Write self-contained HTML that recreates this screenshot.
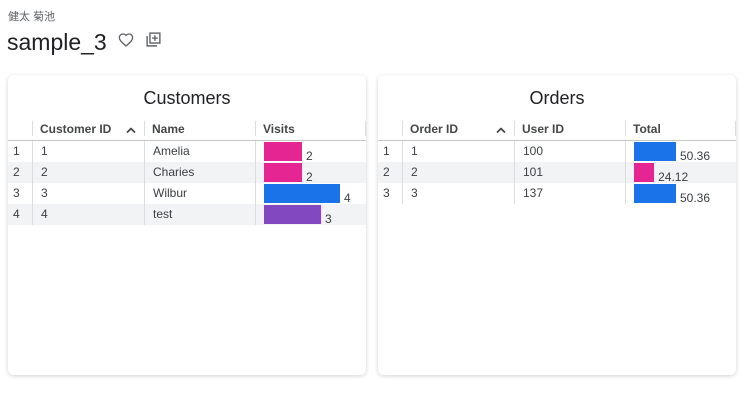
<!DOCTYPE html>
<html><head><meta charset="utf-8"><style>
body{margin:0;width:756px;height:401px;background:#fff;font-family:"Liberation Sans","Noto Sans CJK JP",sans-serif;position:relative;overflow:hidden;color:#202124}
.abs{position:absolute}
.card{position:absolute;top:75px;width:358px;height:300px;background:#fff;border-radius:6px;box-shadow:0 1px 4px rgba(0,0,0,0.18)}
.title{position:absolute;top:13px;left:0;width:100%;text-align:center;font-size:18px;color:#202124}
.hdr{position:absolute;top:47px;font-size:12px;font-weight:bold;color:#444746}
.vsep{position:absolute;width:1px;background:#dadce0}
.cell{position:absolute;font-size:12px;color:#3c4043;line-height:21px}
</style></head><body>
<div class="abs" style="left:8px;top:8px;font-size:11px;color:#5f6368">健太 菊池</div>
<div class="abs" style="left:7px;top:29px;font-size:23px;color:#202124">sample_3</div>
<svg class="abs" style="left:118px;top:32px" width="16" height="16" viewBox="0 0 24 24"><path d="M12 21l-1.5-1.3C5.4 15.1 2 12.1 2 8.4 2 5.4 4.4 3 7.4 3c1.7 0 3.4.8 4.6 2.1C13.2 3.8 14.9 3 16.6 3 19.6 3 22 5.4 22 8.4c0 3.7-3.4 6.7-8.5 11.3z" fill="none" stroke="#5f6368" stroke-width="2"/></svg>
<svg class="abs" style="left:145px;top:31px" width="17" height="17" viewBox="0 0 24 24"><rect x="7" y="3" width="14" height="14" fill="none" stroke="#5f6368" stroke-width="2"/><path d="M3 7v14h14" fill="none" stroke="#5f6368" stroke-width="2"/><path d="M14 6v8M10 10h8" stroke="#5f6368" stroke-width="2"/></svg>

<div class="card" id="c1" style="left:8px"></div>
<div class="card" id="c2" style="left:378px"></div>

<script>
const custIds=["1","2","3","4"];
const custNames=["Amelia","Charies","Wilbur","test"];
const custVisits=[2,2,4,3];
const custColors=["#e52592","#e52592","#1a73e8","#8148bf"];
const orderIds=["1","2","3"];
const orderUsers=["100","101","137"];
const orderTotals=[50.36,24.12,50.36];
const orderTotalLabels=["50.36","24.12","50.36"];
const orderColors=["#1a73e8","#e52592","#1a73e8"];

function mk(parent,cls,name,style,text){
  const d=document.createElement('div');
  d.className=cls;
  
  
  d.style.cssText=style;
  if(text!==undefined)d.textContent=text;
  parent.appendChild(d);return d;
}
function table(card,title,headers,c1,c2,vals,labels,colors,scale){
  const c=document.getElementById(card);
  mk(c,'title',title.toLowerCase()+'-title','',title);
  const xs=[0,24,136,247,358];
  for(let i=1;i<4;i++) mk(c,'vsep','header-divider','left:'+xs[i]+'px;top:46px;height:15px;');
  mk(c,'vsep','header-divider','left:357px;top:46px;height:15px;');
  for(let i=0;i<3;i++){
    const h=mk(c,'hdr','column-header','left:'+(xs[i+1]+8)+'px;',headers[i]);
    
  }
  const s=document.createElementNS('http://www.w3.org/2000/svg','svg');
  
  
  s.setAttribute('width','10');s.setAttribute('height','8');
  s.style.cssText='position:absolute;left:118px;top:51px';
  s.innerHTML='<path d="M1 6.5L5 2.5L9 6.5" fill="none" stroke="#3c4043" stroke-width="1.6"/>';
  c.appendChild(s);
  mk(c,'abs','header-border','left:0;top:65px;width:358px;height:1px;background:#c4c7c5');
  const n=vals.length;
  for(let r=0;r<n;r++){
    const y=66+r*21;
    const row=mk(c,'abs','table-row','left:0;top:'+y+'px;width:358px;height:21px;background:'+(r%2?'#f1f3f4':'#fff'));
    for(let i=1;i<4;i++) mk(row,'vsep','column-divider','left:'+xs[i]+'px;top:0;height:21px;');
    mk(row,'cell','row-number','left:5px;top:0',String(r+1));
    mk(row,'cell','id-cell','left:33px;top:0',c1[r]);
    mk(row,'cell','text-cell','left:145px;top:0',c2[r]);
    const w=vals[r]*scale;
    mk(row,'abs','bar-'+r,'left:256px;top:1px;height:19px;width:'+w+'px;background:'+colors[r]);
    mk(row,'cell','bar-value','left:'+(256+w+4)+'px;top:5px',labels[r]);
  }
}
table('c1','Customers',['Customer ID','Name','Visits'],custIds,custNames,custVisits,custVisits.map(String),custColors,19);
table('c2','Orders',['Order ID','User ID','Total'],orderIds,orderUsers,orderTotals,orderTotalLabels,orderColors,42/50.36);
</script>
</body></html>
